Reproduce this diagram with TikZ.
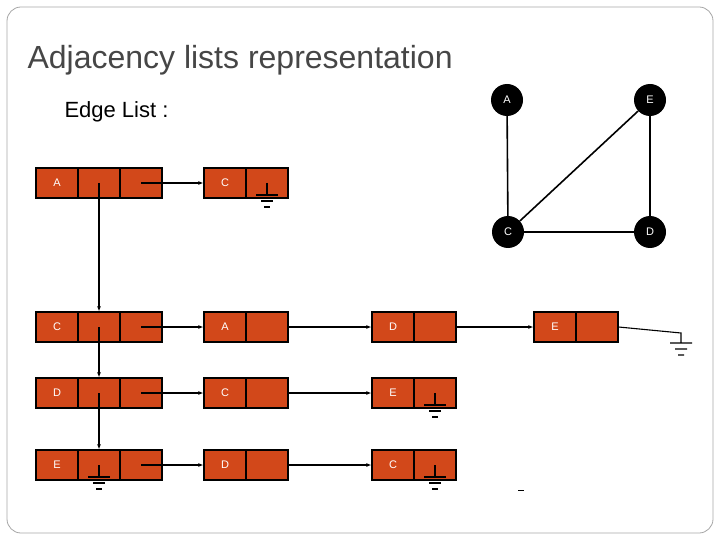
\documentclass[tikz,border=0pt]{standalone}
\usepackage{fontspec}
\setmainfont{Liberation Sans}
\usetikzlibrary{arrows.meta}
\definecolor{cellc}{RGB}{210,72,26}
\definecolor{titlec}{RGB}{70,70,70}
\begin{document}
\begin{tikzpicture}[x=1pt,y=-1pt,
 cell/.style={draw=black,line width=1.2pt,fill=cellc,minimum width=42pt,minimum height=30pt,inner sep=0pt,text=white,font=\fontsize{11}{11}\selectfont},
 vert/.style={circle,fill=black,minimum size=32pt,inner sep=0pt,text=white,font=\fontsize{11}{11}\selectfont},
 ptr/.style={line width=1.1pt,-{Latex[length=5pt,width=4pt]}},
 edge/.style={line width=1.6pt}]
\useasboundingbox (0,0) rectangle (720,540);
\draw[gray!70,line width=0.8pt,rounded corners=14pt] (7,7) rectangle (713,533);
\node[anchor=base west,text=titlec,font=\fontsize{32}{32}\selectfont] (title) at (24,69) {Adjacency lists representation};
\node[anchor=base west,font=\fontsize{22}{22}\selectfont] (el) at (61,118) {Edge List :};
% graph
\node[vert] (gA) at (507,100) {A};
\node[vert] (gE) at (650,100) {E};
\node[vert] (gC) at (508,232) {C};
\node[vert] (gD) at (650,232) {D};
\draw[edge] (gA)--(gC) (gE)--(gD) (gC)--(gD) (gC)--(gE);
% column 1
\foreach \n/\l/\y in {a/A/183,c/C/327,d/D/393,e/E/465}{
 \node[cell] (\n1) at (57,\y) {\l};
 \node[cell] (\n2) at (99,\y) {};
 \node[cell] (\n3) at (141,\y) {};
}
% other boxes
\newcommand{\twocell}[4]{\node[cell] (#1a) at (#3,#4) {#2}; \node[cell] (#1b) at (#3+42,#4) {};}
\twocell{ac}{C}{225}{183}
\twocell{ca}{A}{225}{327}
\twocell{cd}{D}{393}{327}
\twocell{ce}{E}{555}{327}
\twocell{dc}{C}{225}{393}
\twocell{de}{E}{393}{393}
\twocell{ed}{D}{225}{465}
\twocell{ec}{C}{393}{465}
% pointers
\draw[ptr] (a3.center)--(aca.west);
\draw[ptr] (a2.center)--(c2.north);
\draw[ptr] (c3.center)--(caa.west);
\draw[ptr] (c2.center)--(d2.north);
\draw[ptr] (d3.center)--(dca.west);
\draw[ptr] (d2.center)--(e2.north);
\draw[ptr] (e3.center)--(eda.west);
\draw[ptr] (cab.east)--(cda.west);
\draw[ptr] (cdb.east)--(cea.west);
\draw[ptr] (dcb.east)--(dea.west);
\draw[ptr] (edb.east)--(eca.west);
% grounds
\newcommand{\gnd}[2]{\coordinate (#1) at (#2);
 \draw[line width=1.1pt] (#1)--++(0,12) ++(-11,0)--++(22,0) ++(-17,6)--++(12,0) ++(-9,6)--++(6,0);}
\gnd{g1}{267,183}
\gnd{g2}{435,393}
\gnd{g3}{435,465}
\gnd{g4}{99,465}
\coordinate (g5) at (681,333);
\draw[line width=1.1pt] (ceb.east)--(g5)--++(0,10) ++(-11,0)--++(22,0) ++(-17,6)--++(12,0) ++(-9,6)--++(6,0);
\coordinate (dash1) at (518,490);
\draw[line width=1pt] (dash1)--++(6,0);
\end{tikzpicture}
\end{document}
